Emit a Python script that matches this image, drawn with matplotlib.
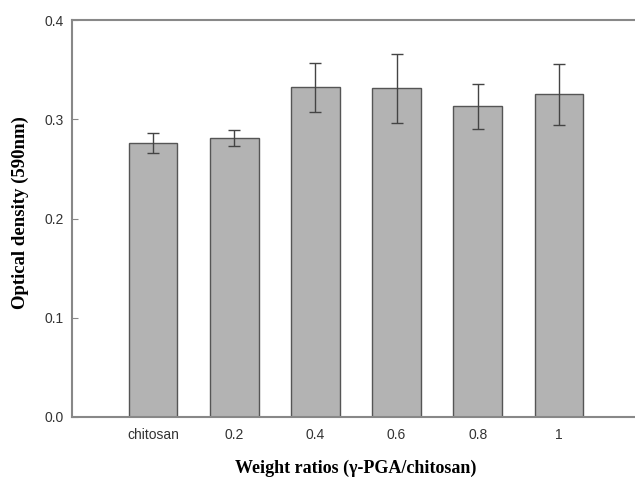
import matplotlib
matplotlib.use("Agg")
import matplotlib.pyplot as plt
import numpy as np

ratios = ["chitosan", "0.2", "0.4", "0.6", "0.8", "1"]
density = [0.276, 0.281, 0.332, 0.331, 0.313, 0.325]
errors = [0.010, 0.008, 0.025, 0.035, 0.023, 0.031]

fig = plt.figure(figsize=(6.35, 4.78), dpi=100)
ax = fig.add_axes([72 / 635, 61 / 478, 568 / 635, 397 / 478])

x = np.arange(1, len(ratios) + 1)
ax.bar(x, density, width=0.6, color="#b3b3b3", edgecolor="#555555", linewidth=1.0,
       yerr=errors, capsize=4.5, error_kw=dict(ecolor="#444444", elinewidth=1.0, capthick=1.0))

ax.set_xlim(0, 7)
ax.set_ylim(0, 0.4)
ax.set_yticks([0.0, 0.1, 0.2, 0.3, 0.4])
ax.set_yticklabels(["0.0", "0.1", "0.2", "0.3", "0.4"])
ax.set_xticks(x)
ax.set_xticklabels(ratios)

for side in ["left", "bottom", "top"]:
    ax.spines[side].set_color("#888888")
    ax.spines[side].set_linewidth(1.5)
ax.spines["right"].set_visible(False)

ax.tick_params(axis="y", direction="in", length=4, color="#888888", labelsize=10,
               labelcolor="#333333", pad=6)
ax.tick_params(axis="x", length=0, labelsize=10, labelcolor="#333333", pad=8)
for lab in ax.get_xticklabels() + ax.get_yticklabels():
    lab.set_family("Liberation Sans")

ax.set_xlabel("Weight ratios (γ-PGA/chitosan)", family="Liberation Serif",
              fontweight="bold", fontsize=13)
ax.set_ylabel("Optical density (590nm)", family="Liberation Serif",
              fontweight="bold", fontsize=13.5)
ax.xaxis.set_label_coords(0.5, -0.107)
ax.yaxis.set_label_coords(-0.075, 0.515)

fig.savefig("out.png", dpi=100)
